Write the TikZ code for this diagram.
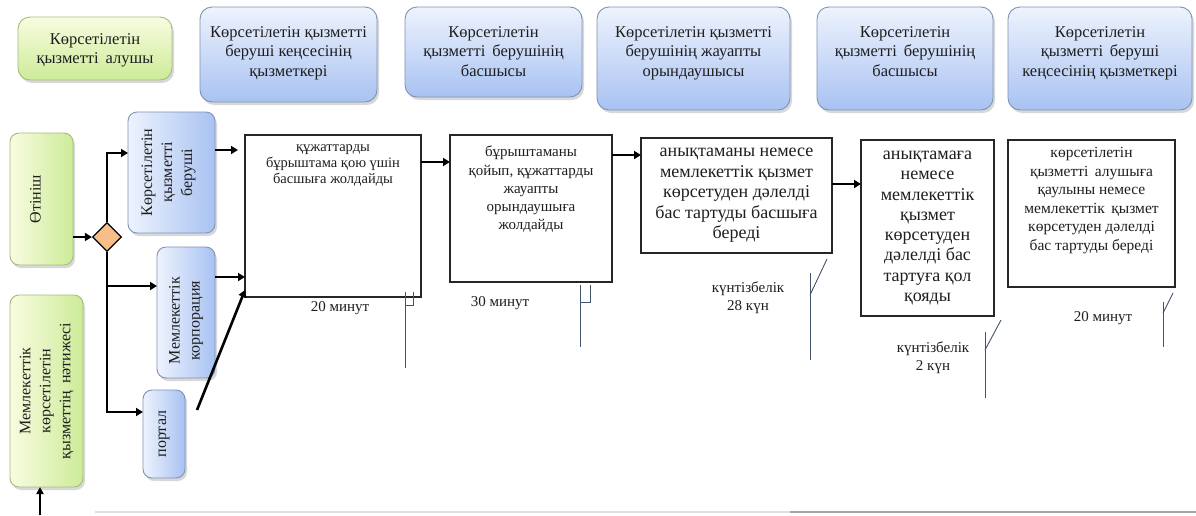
\documentclass[tikz,border=0pt]{standalone}
\usepackage{fontspec}
\setmainfont{Liberation Serif}
\usetikzlibrary{shapes.geometric,arrows.meta,shadows,calc}
\definecolor{bluetop}{HTML}{EEF3FD}
\definecolor{bluebot}{HTML}{A8C2F2}
\definecolor{blueedge}{HTML}{7F93B5}
\definecolor{greentop}{HTML}{F8FCE0}
\definecolor{greenbot}{HTML}{CDEB98}
\definecolor{greenedge}{HTML}{A3BD7E}
\definecolor{diafill}{HTML}{F7BE8A}
\definecolor{markcol}{HTML}{44546B}
\definecolor{txtcol}{HTML}{1E1E1E}
\begin{document}
\begin{tikzpicture}[x=1pt,y=-1pt,
  font=\fontsize{14.5}{18}\selectfont, text=txtcol,
  hdr/.style={draw=blueedge, line width=0.9pt, rounded corners=12pt,
    top color=bluetop, bottom color=bluebot,
    drop shadow={shadow xshift=2pt,shadow yshift=-3pt,opacity=0.3},
    inner sep=0pt, outer sep=0pt},
  hdrg/.style={hdr, draw=greenedge, top color=greentop, bottom color=greenbot},
  side/.style={draw=blueedge, line width=0.9pt, rounded corners=9pt,
    left color=bluetop, right color=bluebot,
    drop shadow={shadow xshift=2pt,shadow yshift=-3pt,opacity=0.3},
    inner sep=0pt, outer sep=0pt},
  sideg/.style={side, draw=greenedge, left color=greentop, right color=greenbot},
  proc/.style={draw=black!85, line width=1.1pt, fill=white, inner sep=0pt, outer sep=0pt},
  txt/.style={align=center, inner sep=0pt},
  htxt/.style={txt, font=\fontsize{16.5}{19.5}\selectfont},
  rtxt/.style={txt, rotate=90, font=\fontsize{16}{20}\selectfont},
  dia/.style={diamond, draw=black, line width=1.2pt, fill=diafill,
    minimum width=29pt, minimum height=29pt, inner sep=0pt},
  arr/.style={line width=2.6pt, -{Triangle[length=7pt,width=8pt]}},
  arrthin/.style={line width=2pt, -{Triangle[length=7pt,width=7pt]}},
  mk/.style={draw=markcol, line width=0.9pt},
  lbl/.style={txt, font=\fontsize{15}{18}\selectfont}
]
\useasboundingbox (0,0) rectangle (1196,515);
\fill[white] (0,0) rectangle (1196,515);

% faint bottom border
\draw[black!12, line width=1.5pt] (95,512) -- (790,512);
\draw[black!35, line width=1.5pt] (790,512) -- (1196,512);

% header row
\node[hdrg, minimum width=154pt, minimum height=63pt] (h0) at (95,48.5) {};
\node[htxt] (t0) at ([yshift=-2pt]h0.center) {Көрсетілетін\\қызметті\, алушы};
\node[hdr, minimum width=177pt, minimum height=95pt] (h1) at (288.5,54.5) {};
\node[htxt, anchor=north] (t1) at ([yshift=-19pt]h1.north) {Көрсетілетін қызметті\\беруші кеңсесінің\\қызметкері};
\node[hdr, minimum width=177pt, minimum height=90pt] (h2) at (493.5,52) {};
\node[htxt, anchor=north] (t2) at ([yshift=-19pt]h2.north) {Көрсетілетін\\қызметті\, берушінің\\басшысы};
\node[hdr, minimum width=193pt, minimum height=103pt] (h3) at (693.5,58.5) {};
\node[htxt, anchor=north] (t3) at ([yshift=-19pt]h3.north) {Көрсетілетін қызметті\\берушінің жауапты\\орындаушысы};
\node[hdr, minimum width=176pt, minimum height=103pt] (h4) at (905,58.5) {};
\node[htxt, anchor=north] (t4) at ([yshift=-19pt]h4.north) {Көрсетілетін\\қызметті\, берушінің\\басшысы};
\node[hdr, minimum width=184pt, minimum height=103pt] (h5) at (1100,58.5) {};
\node[htxt, anchor=north] (t5) at ([yshift=-19pt]h5.north) {Көрсетілетін\\қызметті\, беруші\\кеңсесінің қызметкері};

% left column
\node[sideg, minimum width=63pt, minimum height=132pt] (ot) at (41.5,199) {};
\node[rtxt] (tot) at ([xshift=-6pt]ot.center) {Өтініш};
\node[sideg, minimum width=73pt, minimum height=192pt] (res) at (46.5,391) {};
\node[rtxt] (tres) at (res.center) {Мемлекеттік\\көрсетілетін\\қызметтің\, нәтижесі};
\node[side, minimum width=87pt, minimum height=121pt] (kb) at (171.5,172.5) {};
\node[rtxt] (tkb) at ([xshift=-3pt]kb.center) {Көрсетілетін\\қызметті\\беруші};
\node[side, minimum width=58pt, minimum height=131pt] (mc) at (186,312.5) {};
\node[rtxt] (tmc) at ([yshift=-8pt]mc.center) {Мемлекеттік\\корпорация};
\node[side, minimum width=42pt, minimum height=88pt] (po) at (164,434) {};
\node[rtxt] (tpo) at (po.center) {портал};
\node[dia] (d) at (107,237) {};

% process boxes
\node[proc, minimum width=176pt, minimum height=162pt] (b1) at (333,216) {};
\node[txt, anchor=north, font=\fontsize{14.5}{16}\selectfont] (tb1) at ([yshift=-9pt]b1.north) {құжаттарды\\бұрыштама қою үшін\\басшыға жолдайды};
\node[proc, minimum width=162pt, minimum height=147pt] (b2) at (531,208.5) {};
\node[txt, anchor=north, font=\fontsize{15}{18.2}\selectfont] (tb2) at ([yshift=-11pt]b2.north) {бұрыштаманы\\қойып, құжаттарды\\жауапты\\орындаушыға\\жолдайды};
\node[proc, minimum width=191pt, minimum height=115pt, align=center,
  font=\fontsize{18}{20.5}\selectfont] (b3) at (736.5,195.5)
  {анықтаманы немесе\\мемлекеттік қызмет\\көрсетуден дәлелді\\бас тартуды басшыға\\береді};
\node[proc, minimum width=133pt, minimum height=176pt, align=center,
  font=\fontsize{18}{20.3}\selectfont] (b4) at (927.5,228)
  {анықтамаға\\немесе\\мемлекеттік\\қызмет\\көрсетуден\\дәлелді бас\\тартуға қол\\қояды};
\node[proc, minimum width=167pt, minimum height=147pt] (b5) at (1091.5,213.5) {};
\node[txt, anchor=north, font=\fontsize{15.5}{18.6}\selectfont] (tb5) at ([yshift=-7pt]b5.north) {көрсетілетін\\қызметті\, алушыға\\қаулыны немесе\\мемлекеттік\, қызмет\\көрсетуден дәлелді\\бас тартуды береді};

% connectors
\draw[arr] (ot.east |- d.west) -- (d.west);
\coordinate (kbin) at ([yshift=19.5pt]kb.west);
\draw[arr] (d.north) |- (kbin);
\coordinate (mcin) at ([yshift=26.5pt]mc.west);
\draw[arr] (d.south |- mcin) -- (mcin);
\coordinate (poin) at ([yshift=22pt]po.west);
\draw[arr] (d.south) |- (poin);
\coordinate (kbout) at ([yshift=22.5pt]kb.east);
\draw[arr, shorten >=7pt] (kbout) -- (kbout -| b1.west);
\coordinate (mcout) at ([yshift=35.5pt]mc.east);
\draw[arr] (mcout) -- (mcout -| b1.west);
\coordinate (poout) at ([xshift=12pt,yshift=-20pt]po.north east);
\draw[arr] (poout) -- ([yshift=7pt]b1.south west);
\coordinate (b1out) at ([yshift=54pt]b1.east);
\draw[arr] (b1out) -- (b1out -| b2.west);
\coordinate (b2out) at ([yshift=53.5pt]b2.east);
\draw[arr] (b2out) -- (b2out -| b3.west);
\coordinate (b3out) at ([yshift=11.5pt]b3.east);
\draw[arr] (b3out) -- (b3out -| b4.west);
\coordinate (resin) at (40,515);
\draw[arrthin] (resin) -- (resin |- res.south);

% time markers
\draw[mk] (405,292) -- (405,368);
\draw[mk] (405,305) -- (413,305) -- (413,292);
\draw[mk] (580,285) -- (580,347);
\draw[mk] (580,302) -- (590,302) -- (590,285);
\draw[mk] (810,273) -- (810,360);
\draw[mk] (810,295) -- (827,259);
\draw[mk] (985,332) -- (985,398);
\draw[mk] (985,350) -- (1001,320);
\draw[mk] (1163,302) -- (1163,347);
\draw[mk] (1163,313) -- (1173,293);

% labels
\node[lbl] (l1) at (340,308) {20 минут};
\node[lbl] (l2) at (500,303) {30 минут};
\node[lbl] (l3) at (748,298) {күнтізбелік\\28 күн};
\node[lbl] (l4) at (933,358) {күнтізбелік\\2 күн};
\node[lbl] (l5) at (1103,318) {20 минут};
\end{tikzpicture}
\end{document}
